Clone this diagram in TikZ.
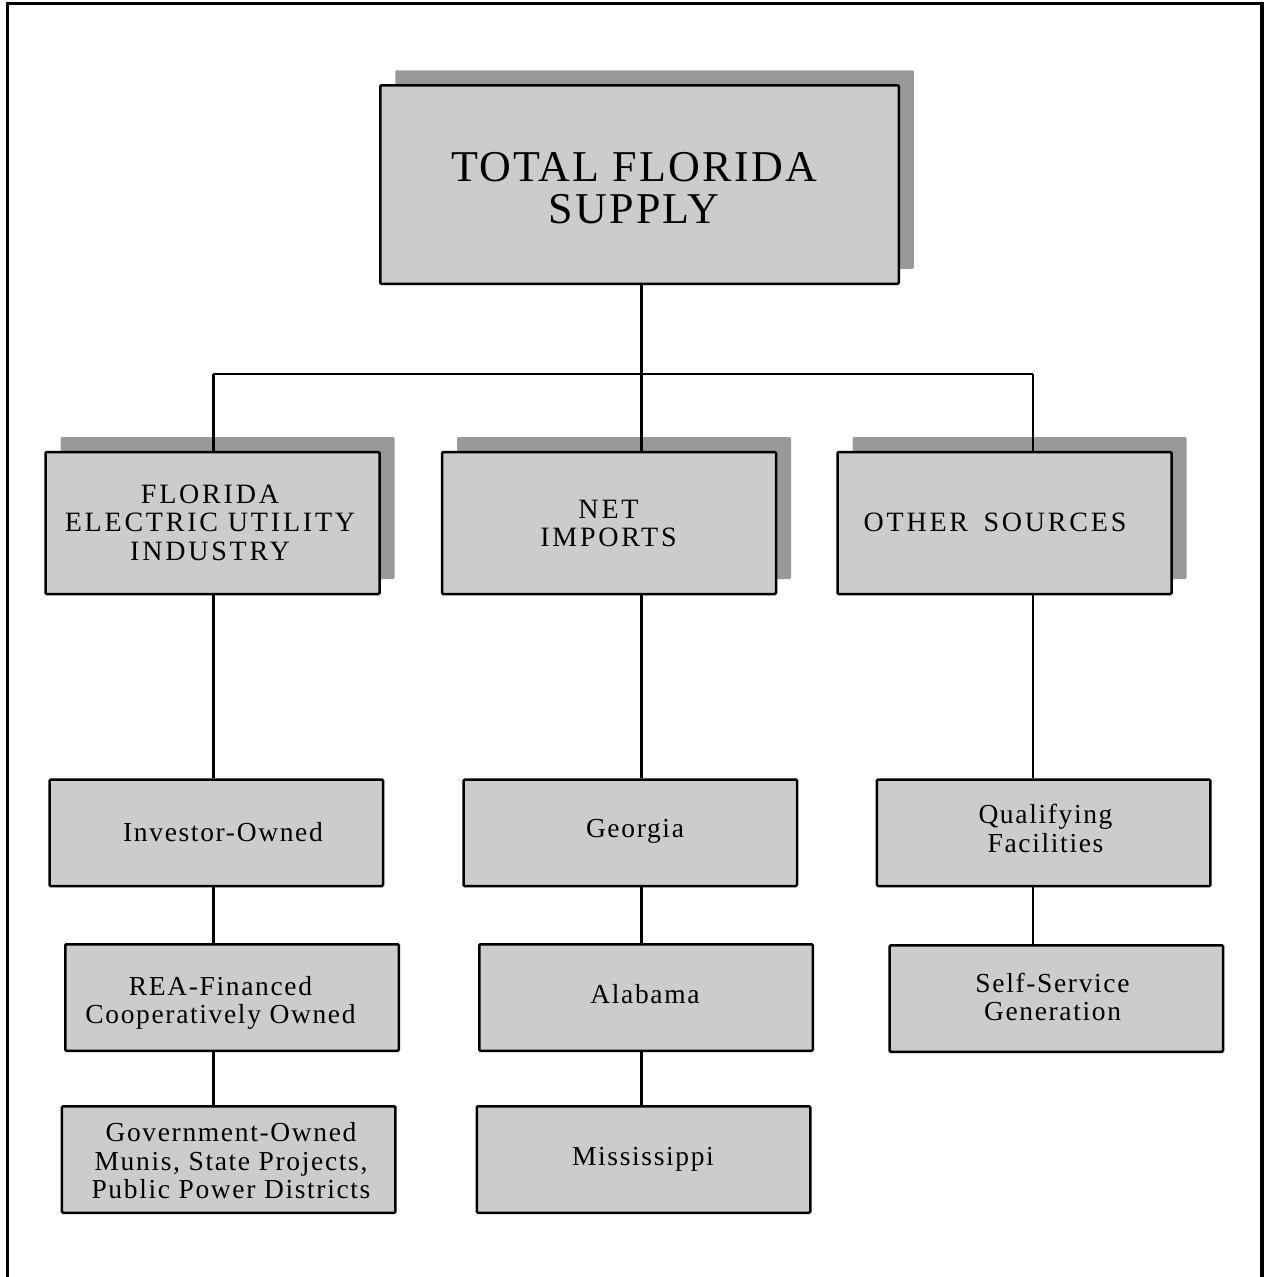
\documentclass[tikz,border=0pt]{standalone}
\usepackage{fontspec}
\setmainfont{Liberation Serif}
\newfontfamily\titlefont[LetterSpace=5]{Liberation Serif}
\newfontfamily\headfont[LetterSpace=10]{Liberation Serif}
\newfontfamily\itemfont[LetterSpace=6]{Liberation Serif}
\usetikzlibrary{shadows}
\definecolor{boxgray}{HTML}{CCCCCC}
\definecolor{shadowgray}{HTML}{999999}
\tikzset{
  boxbase/.style={draw=black, line width=2.5pt, fill=boxgray, rounded corners=1.2pt, inner sep=0pt, anchor=center},
  shadowbox/.style={boxbase, general shadow={fill=shadowgray, shadow xshift=15pt, shadow yshift=15pt}},
  topbox/.style={shadowbox, minimum width=518.5pt, minimum height=198.5pt},
  headbox/.style={shadowbox, minimum width=334pt, minimum height=142pt},
  itembox/.style={boxbase, minimum width=333.5pt, minimum height=106.5pt},
  titletext/.style={align=center, inner sep=0pt, font=\titlefont\fontsize{44}{42}\selectfont},
  headtext/.style={align=center, inner sep=0pt, font=\headfont\fontsize{28}{28.5}\selectfont},
  itemtext/.style={align=center, inner sep=0pt, font=\itemfont\fontsize{27.5}{28.5}\selectfont},
  conn/.style={line width=2.4pt}
}
\begin{document}
\begin{tikzpicture}[x=1pt, y=-1pt]
\useasboundingbox (0,0) rectangle (1265,1277);
% outer frame (open at the bottom)
\draw[line width=3.3pt] (7.5,1280) -- (7.5,3.5) -- (1262,3.5) -- (1262,1280);

% connector bus coordinates
\coordinate (cL) at (213.3,374);
\coordinate (cM) at (641.5,374);
\coordinate (cR) at (1033,374);

% boxes
\node[topbox] (top) at (639.5,184.5) {};
\node[headbox] (feui) at (212.5,523) {};
\node[headbox] (net) at (609,523) {};
\node[headbox] (oth) at (1004.5,523) {};

\node[itembox] (inv) at (216.3,832.8) {};
\node[itembox] (geo) at (630.3,832.8) {};
\node[itembox] (qf) at (1043.7,832.8) {};
\node[itembox] (rea) at (232,997.5) {};
\node[itembox] (ala) at (646,997.5) {};
\node[itembox] (ssg) at (1056.3,998.5) {};
\node[itembox] (gov) at (228.7,1159.5) {};
\node[itembox] (mis) at (643.5,1159.5) {};

% texts
\node[titletext] (ttop) at (634,188.5) {TOTAL FLORIDA\\SUPPLY};
\node[headtext] (tfeui) at (210,522.5) {FLORIDA\\ELECTRIC UTILITY\\INDUSTRY};
\node[headtext] (tnet) at (608.5,523.5) {NET\\IMPORTS};
\node[headtext] (toth) at (995,522.5) {OTHER\hspace{0.2em} SOURCES};
\node[itemtext] (tinv) at (223,832.5) {Investor-Owned};
\node[itemtext] (tgeo) at (635,831.5) {Georgia};
\node[itemtext] (tqf) at (1045.5,828.5) {Qualifying\\Facilities};
\node[itemtext] (trea) at (220.5,1003) {REA-Financed\\Cooperatively Owned};
\node[itemtext] (tala) at (645,994) {Alabama};
\node[itemtext] (tssg) at (1052.5,997) {Self-Service\\Generation};
\node[itemtext] (tgov) at (231,1161) {Government-Owned\\Munis, State Projects,\\Public Power Districts};
\node[itemtext] (tmis) at (643,1159) {Mississippi};

% connectors
\draw[conn] (top.south -| cM) -- (cM);
\draw[conn] (cL) -- (cR);
\draw[conn] (cL) -- (cL |- feui.north);
\draw[conn] (cM) -- (cM |- net.north);
\draw[conn] (cR) -- (cR |- oth.north);
\draw[conn] (cL |- feui.south) -- (cL |- inv.north);
\draw[conn] (cM |- net.south) -- (cM |- geo.north);
\draw[conn] (cR |- oth.south) -- (cR |- qf.north);
\draw[conn] (cL |- inv.south) -- (cL |- rea.north);
\draw[conn] (cM |- geo.south) -- (cM |- ala.north);
\draw[conn] (cR |- qf.south) -- (cR |- ssg.north);
\draw[conn] (cL |- rea.south) -- (cL |- gov.north);
\draw[conn] (cM |- ala.south) -- (cM |- mis.north);
\end{tikzpicture}
\end{document}
